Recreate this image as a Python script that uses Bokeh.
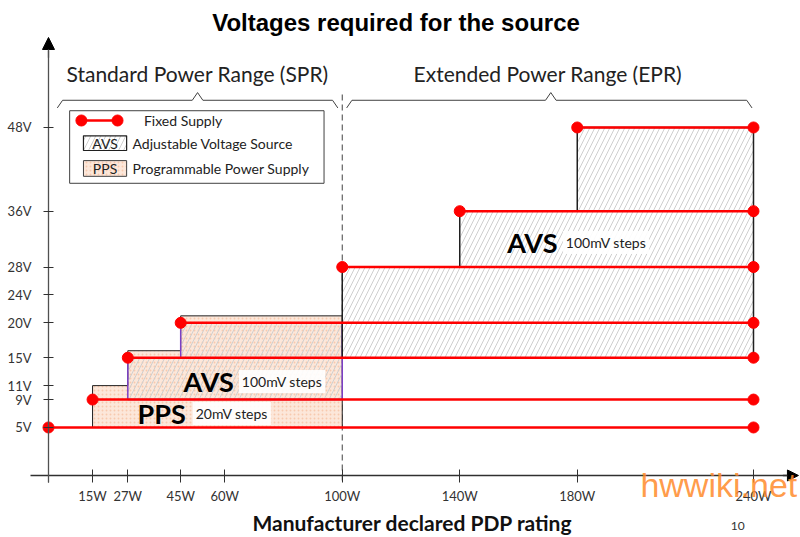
from bokeh.plotting import figure
from bokeh.models import Range1d, FixedTicker, Label, Arrow, NormalHead, LinearAxis
from bokeh.embed import file_html
from bokeh.resources import INLINE

# ---------------- data ----------------
fixed_volts = [5, 9, 15, 20, 28, 36, 48]
fixed_start_w = [0, 15, 27, 45, 100, 140, 180]
fixed_end_w = [240, 240, 240, 240, 240, 240, 240]

pps_start_w = [15, 27, 45]
pps_max_v = [11, 16, 21]
pps_min_v = 5
pps_end_w = 100

spr_avs_start_w = [27, 45]
spr_avs_max_v = [15, 20]
spr_avs_min_v = 9
spr_avs_end_w = 100

epr_avs_start_w = [100, 140, 180]
epr_avs_max_v = [28, 36, 48]
epr_avs_min_v = 15
epr_avs_end_w = 240

x_ticks = [0, 15, 27, 45, 60, 100, 140, 180, 240]
x_tick_labels = ["", "15W", "27W", "45W", "60W", "100W", "140W", "180W", "240W"]
y_ticks = [5, 9, 11, 15, 20, 24, 28, 36, 48]
y_tick_labels = ["5V", "9V", "11V", "15V", "20V", "24V", "28V", "36V", "48V"]

spr_range_w = [3, 98.5]
epr_range_w = [101.5, 239.5]
spr_epr_split_w = 100

FONT = "Lato"
RED = "#FF0000"
HATCH = "#CFCFCF"
PEACH = "#FCE7DA"
PEACH_DOT = "#F6C3A4"


def step_polygon(starts, tops, end, base):
    xs = [starts[0], starts[0]]
    ys = [base, tops[0]]
    for i in range(1, len(starts)):
        xs += [starts[i], starts[i]]
        ys += [tops[i - 1], tops[i]]
    xs += [end, end]
    ys += [tops[-1], base]
    return xs, ys


p = figure(width=800, height=537, output_backend="svg", toolbar_location=None,
           x_range=Range1d(-16.34, 256.0), y_range=Range1d(-10.77, 66.2),
           x_axis_location=None, y_axis_location=None, min_border=0)
p.outline_line_color = None
p.grid.visible = False
p.background_fill_color = "white"

# axes
xaxis = LinearAxis(fixed_location=-1.88, ticker=FixedTicker(ticks=x_ticks),
                   major_label_overrides={t: l for t, l in zip(x_ticks, x_tick_labels)},
                   bounds=(-6, 254), axis_line_color="#303030", axis_line_width=1.3,
                   major_tick_in=6, major_tick_out=7, major_tick_line_color="#303030",
                   minor_tick_line_color=None, major_label_standoff=6,
                   major_label_text_font=FONT, major_label_text_font_size="13px",
                   major_label_text_color="#333333",
                   axis_label="Manufacturer declared PDP rating", axis_label_standoff=2,
                   axis_label_text_font=FONT, axis_label_text_font_style="bold",
                   axis_label_text_font_size="21px", axis_label_text_color="#111111")
p.add_layout(xaxis, "below")

yaxis = LinearAxis(fixed_location=0, ticker=FixedTicker(ticks=y_ticks),
                   major_label_overrides={t: l for t, l in zip(y_ticks, y_tick_labels)},
                   bounds=(-2.9, 59), axis_line_color="#505050", axis_line_width=1.3,
                   major_tick_in=5, major_tick_out=5, major_tick_line_color="#303030",
                   minor_tick_line_color=None, major_label_standoff=12,
                   major_label_text_font=FONT, major_label_text_font_size="13px",
                   major_label_text_color="#333333")
p.add_layout(yaxis, "left")

p.add_layout(Arrow(x_start=0, y_start=58, x_end=0, y_end=60.9, line_color="#505050",
                   line_width=1.3, end=NormalHead(size=12, fill_color="black",
                                                  line_color="black")))
p.add_layout(Arrow(x_start=250, y_start=-1.88, x_end=255.3, y_end=-1.88,
                   line_color="#303030", line_width=1.3,
                   end=NormalHead(size=11, fill_color="black", line_color="black")))

# title
p.add_layout(Label(x=118.3, y=63.0, text="Voltages required for the source",
                   text_align="center", text_baseline="middle",
                   text_font="Liberation Sans", text_font_style="bold",
                   text_font_size="24px", text_color="black"))

# braces and range labels
def brace(x0, x1, xm, base=51.9, end=50.8, peak=53.0, d=1.8):
    xs = [x0, x0 + d, xm - d, xm, xm + d, x1 - d, x1]
    ys = [end, base, base, peak, base, base, end]
    p.line(xs, ys, line_color="#404040", line_width=1)

brace(spr_range_w[0], spr_range_w[1], sum(spr_range_w) / 2)
brace(epr_range_w[0], epr_range_w[1], 171)
p.add_layout(Label(x=sum(spr_range_w) / 2, y=55.7, text="Standard Power Range (SPR)",
                   text_align="center", text_baseline="middle", text_font=FONT,
                   text_font_size="21px", text_color="#222222"))
p.add_layout(Label(x=170, y=55.7, text="Extended Power Range (EPR)",
                   text_align="center", text_baseline="middle", text_font=FONT,
                   text_font_size="21px", text_color="#222222"))

# dashed split line
p.line([spr_epr_split_w, spr_epr_split_w], [-2.6, 53.0], line_color="#404040",
       line_width=1, line_dash="6 4")

# PPS region
xs, ys = step_polygon(pps_start_w, pps_max_v, pps_end_w, pps_min_v)
p.patch(xs, ys, fill_color=PEACH, line_color="#202020", line_width=1,
        hatch_pattern="dot", hatch_color=PEACH_DOT, hatch_scale=4, hatch_alpha=0.8)

# SPR AVS region
xs, ys = step_polygon(spr_avs_start_w, spr_avs_max_v, spr_avs_end_w, spr_avs_min_v)
p.patch(xs, ys, fill_color=None, line_color="#7B3FC4", line_width=1.5,
        hatch_pattern="right_diagonal_line", hatch_color=HATCH, hatch_scale=10,
        hatch_weight=1)

# EPR AVS region
xs, ys = step_polygon(epr_avs_start_w, epr_avs_max_v, epr_avs_end_w, epr_avs_min_v)
p.patch(xs, ys, fill_color=None, line_color="#202020", line_width=1.5,
        hatch_pattern="right_diagonal_line", hatch_color=HATCH, hatch_scale=10,
        hatch_weight=1)

# fixed supply lines
p.segment(x0=fixed_start_w, y0=fixed_volts, x1=fixed_end_w, y1=fixed_volts,
          line_color=RED, line_width=2.5)
p.scatter(fixed_start_w + fixed_end_w, fixed_volts + fixed_volts, size=11,
          fill_color=RED, line_color=RED)

# region labels
def region_label(x, y, big, small, sx):
    p.add_layout(Label(x=x, y=y, text=big, text_align="center", text_baseline="middle",
                       text_font=FONT, text_font_style="bold", text_font_size="27px",
                       text_color="black"))
    p.add_layout(Label(x=sx, y=y, text=small, text_align="center", text_baseline="middle",
                       text_font=FONT, text_font_size="14px", text_color="#222222",
                       background_fill_color="white", background_fill_alpha=0.9,
                       padding=3))

region_label(54.5, 11.6, "AVS", "100mV steps", 79.5)
region_label(38.5, 7.0, "PPS", "20mV steps", 62.4)
region_label(164.7, 31.5, "AVS", "100mV steps", 189.8)

# legend (manual)
p.quad(left=[7.2], right=[93.8], bottom=[40.0], top=[50.4], fill_color="white",
       line_color="#404040", line_width=1)
p.line([11.2, 23.5], [49.0, 49.0], line_color=RED, line_width=2.5)
p.scatter([11.2, 23.5], [49.0, 49.0], size=11, fill_color=RED, line_color=RED)
p.add_layout(Label(x=32.5, y=49.0, text="Fixed Supply", text_baseline="middle",
                   text_font=FONT, text_font_size="14px", text_color="#222222"))
p.quad(left=[11.9], right=[26.6], bottom=[44.7], top=[46.8], fill_color="white",
       line_color="#202020", line_width=1.2, hatch_pattern="right_diagonal_line",
       hatch_color=HATCH, hatch_scale=10)
p.add_layout(Label(x=19.25, y=45.75, text="AVS", text_align="center",
                   text_baseline="middle", text_font=FONT, text_font_size="14px",
                   text_color="#222222"))
p.add_layout(Label(x=28.6, y=45.75, text="Adjustable Voltage Source",
                   text_baseline="middle", text_font=FONT, text_font_size="14px",
                   text_color="#222222"))
p.quad(left=[11.9], right=[26.6], bottom=[41.0], top=[43.25], fill_color=PEACH,
       line_color="#404040", line_width=1, hatch_pattern="dot", hatch_color=PEACH_DOT,
       hatch_scale=4, hatch_alpha=0.8)
p.add_layout(Label(x=19.25, y=42.1, text="PPS", text_align="center",
                   text_baseline="middle", text_font=FONT, text_font_size="14px",
                   text_color="#222222"))
p.add_layout(Label(x=28.6, y=42.1, text="Programmable Power Supply",
                   text_baseline="middle", text_font=FONT, text_font_size="14px",
                   text_color="#222222"))

# page number and watermark
p.add_layout(Label(x=234.6, y=-9.05, text="10", text_align="center",
                   text_baseline="middle", text_font=FONT, text_font_size="12px",
                   text_color="#333333"))
p.add_layout(Label(x=201.5, y=-3.2, text="hwwiki.net", text_baseline="middle",
                   text_font="Liberation Sans", text_font_size="34px",
                   text_color="#FF8A2A", text_alpha=0.85))

open("out.html", "w").write(file_html(p, INLINE))
